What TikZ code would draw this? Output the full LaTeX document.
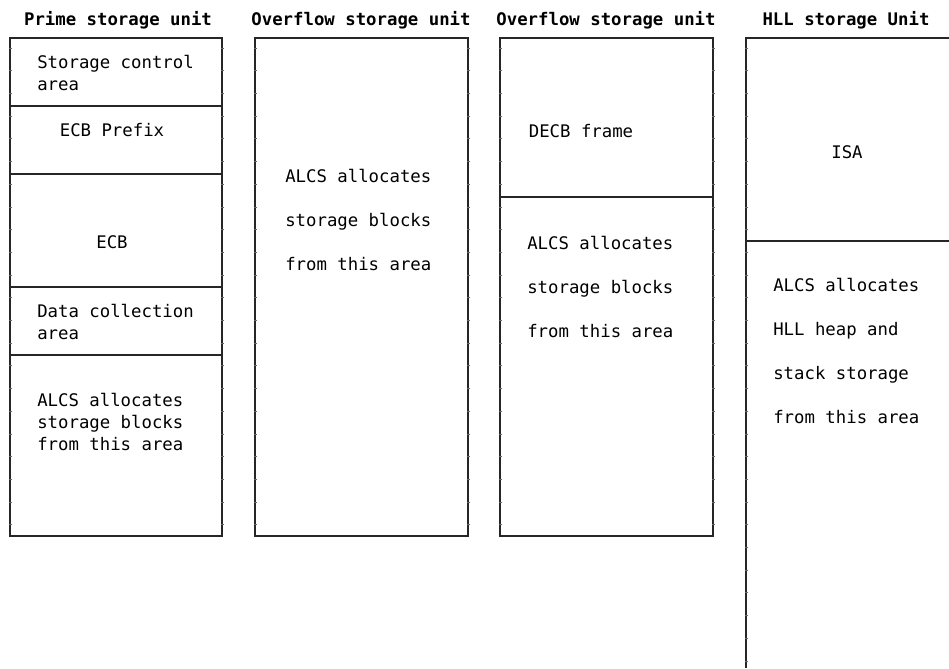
\documentclass[tikz,border=0pt]{standalone}
\usepackage{fontspec}
\setmonofont{DejaVu Sans Mono}
\usetikzlibrary{positioning}
\begin{document}
\begin{tikzpicture}[x=0.75pt,y=-0.75pt,font=\ttfamily\fontsize{13}{16.5}\selectfont,
  unit/.style={font=\ttfamily\bfseries\fontsize{13}{16.5}\selectfont},
  txt/.style={anchor=west,inner sep=0pt,align=left},
  ctr/.style={inner sep=0pt,align=center},
  frame/.style={line width=0.8pt,draw=black!85}]
\useasboundingbox (0,0) rectangle (949,668);
% storage units
\foreach \xa/\xb in {10/222,255/468,500/713}
  \draw[frame] (\xa,38) rectangle (\xb,536);
\draw[frame] (949,38) -- (746,38) -- (746,668);
% small marks on the sides
\foreach \xx/\n in {10/21,222/21,255/21,468/21,500/21,713/21,746/27} \foreach \k in {0,...,\n} {
  \draw[black!60,line width=0.5pt] (\xx-1.5,48+22.7*\k) -- (\xx+1.5,48+22.7*\k);
}
% dividers
\foreach \yy in {106,174,287,355} \draw[frame] (10,\yy) -- (222,\yy);
\draw[frame] (500,197) -- (713,197);
\draw[frame] (746,241) -- (949,241);
% titles
\node[unit] (prime) at (118,20) {Prime storage unit};
\node[unit] (ovfa) at (361,20) {Overflow storage unit};
\node[unit] (ovfb) at (606,20) {Overflow storage unit};
\node[unit] (hll) at (846,20) {HLL storage Unit};
% prime unit
\node[txt] (sca) at (37,73) {Storage control\\area};
\node[ctr] (pfx) at (112,130) {ECB Prefix};
\node[ctr] (ecb) at (112,242) {ECB};
\node[txt] (dca) at (37,322) {Data collection\\area};
\node[txt] (pal) at (37,422) {ALCS allocates\\storage blocks\\from this area};
% overflow units
\node[txt] (oal) at (285,220) {ALCS allocates\\[16.5pt]storage blocks\\[16.5pt]from this area};
\node[ctr] (decb) at (581,131) {DECB frame};
\node[txt] (obl) at (527,287) {ALCS allocates\\[16.5pt]storage blocks\\[16.5pt]from this area};
% hll unit
\node[ctr] (isa) at (847,152) {ISA};
\node[txt] (hal) at (773,351) {ALCS allocates\\[16.5pt]HLL heap and\\[16.5pt]stack storage\\[16.5pt]from this area};
\end{tikzpicture}
\end{document}
